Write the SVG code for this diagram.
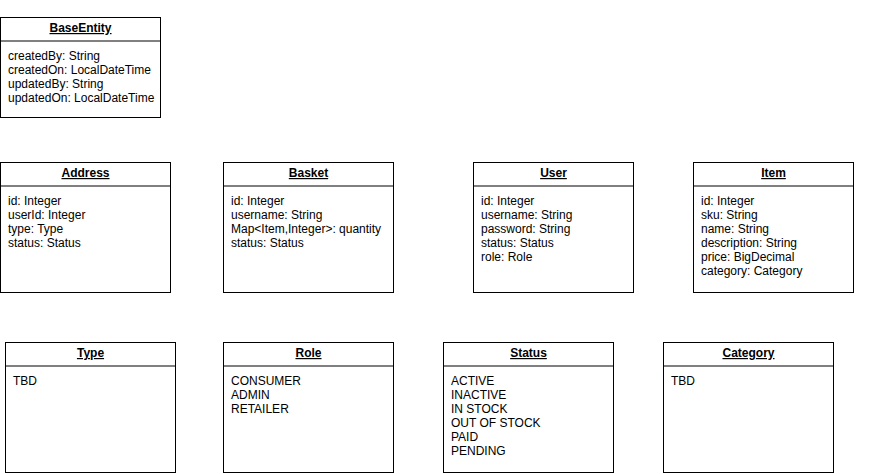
<svg xmlns="http://www.w3.org/2000/svg" width="870" height="474" viewBox="0 0 870 474">
<style>
.box{fill:#fff;stroke:#000;stroke-width:1}
.div{stroke:#000;stroke-width:1}
text{font-family:"Liberation Sans",Arial,sans-serif;font-size:12px;fill:#000}
.t{font-weight:bold;text-decoration:underline;text-anchor:middle}
</style>
<rect width="870" height="474" fill="#fff"/>
<g id="connectors"></g>
<g id="BaseEntity">
<rect class="box" x="0.5" y="17.5" width="160" height="100"/>
<line class="div" x1="0.5" y1="41" x2="160.5" y2="41"/>
<text class="t" x="80.5" y="32">BaseEntity</text>
<text x="8" y="60">createdBy: String</text>
<text x="8" y="74">createdOn: LocalDateTime</text>
<text x="8" y="88">updatedBy: String</text>
<text x="8" y="102">updatedOn: LocalDateTime</text>
</g>
<g id="Address">
<rect class="box" x="0.5" y="162.5" width="170" height="130"/>
<line class="div" x1="0.5" y1="186" x2="170.5" y2="186"/>
<text class="t" x="85.5" y="177">Address</text>
<text x="8" y="205">id: Integer</text>
<text x="8" y="219">userId: Integer</text>
<text x="8" y="233">type: Type</text>
<text x="8" y="247">status: Status</text>
</g>
<g id="Basket">
<rect class="box" x="223.5" y="162.5" width="170" height="130"/>
<line class="div" x1="223.5" y1="186" x2="393.5" y2="186"/>
<text class="t" x="308.5" y="177">Basket</text>
<text x="231" y="205">id: Integer</text>
<text x="231" y="219">username: String</text>
<text x="231" y="233">Map&lt;Item,Integer&gt;: quantity</text>
<text x="231" y="247">status: Status</text>
</g>
<g id="User">
<rect class="box" x="473.5" y="162.5" width="160" height="130"/>
<line class="div" x1="473.5" y1="186" x2="633.5" y2="186"/>
<text class="t" x="553.5" y="177">User</text>
<text x="481" y="205">id: Integer</text>
<text x="481" y="219">username: String</text>
<text x="481" y="233">password: String</text>
<text x="481" y="247">status: Status</text>
<text x="481" y="261">role: Role</text>
</g>
<g id="Item">
<rect class="box" x="693.5" y="162.5" width="160" height="130"/>
<line class="div" x1="693.5" y1="186" x2="853.5" y2="186"/>
<text class="t" x="773.5" y="177">Item</text>
<text x="701" y="205">id: Integer</text>
<text x="701" y="219">sku: String</text>
<text x="701" y="233">name: String</text>
<text x="701" y="247">description: String</text>
<text x="701" y="261">price: BigDecimal</text>
<text x="701" y="275">category: Category</text>
</g>
<g id="Type">
<rect class="box" x="5.5" y="342.5" width="170" height="130"/>
<line class="div" x1="5.5" y1="366" x2="175.5" y2="366"/>
<text class="t" x="90.5" y="357">Type</text>
<text x="13" y="385">TBD</text>
</g>
<g id="Role">
<rect class="box" x="223.5" y="342.5" width="170" height="130"/>
<line class="div" x1="223.5" y1="366" x2="393.5" y2="366"/>
<text class="t" x="308.5" y="357">Role</text>
<text x="231" y="385">CONSUMER</text>
<text x="231" y="399">ADMIN</text>
<text x="231" y="413">RETAILER</text>
</g>
<g id="Status">
<rect class="box" x="443.5" y="342.5" width="170" height="130"/>
<line class="div" x1="443.5" y1="366" x2="613.5" y2="366"/>
<text class="t" x="528.5" y="357">Status</text>
<text x="451" y="385">ACTIVE</text>
<text x="451" y="399">INACTIVE</text>
<text x="451" y="413">IN STOCK</text>
<text x="451" y="427">OUT OF STOCK</text>
<text x="451" y="441">PAID</text>
<text x="451" y="455">PENDING</text>
</g>
<g id="Category">
<rect class="box" x="663.5" y="342.5" width="170" height="130"/>
<line class="div" x1="663.5" y1="366" x2="833.5" y2="366"/>
<text class="t" x="748.5" y="357">Category</text>
<text x="671" y="385">TBD</text>
</g>
</svg>
